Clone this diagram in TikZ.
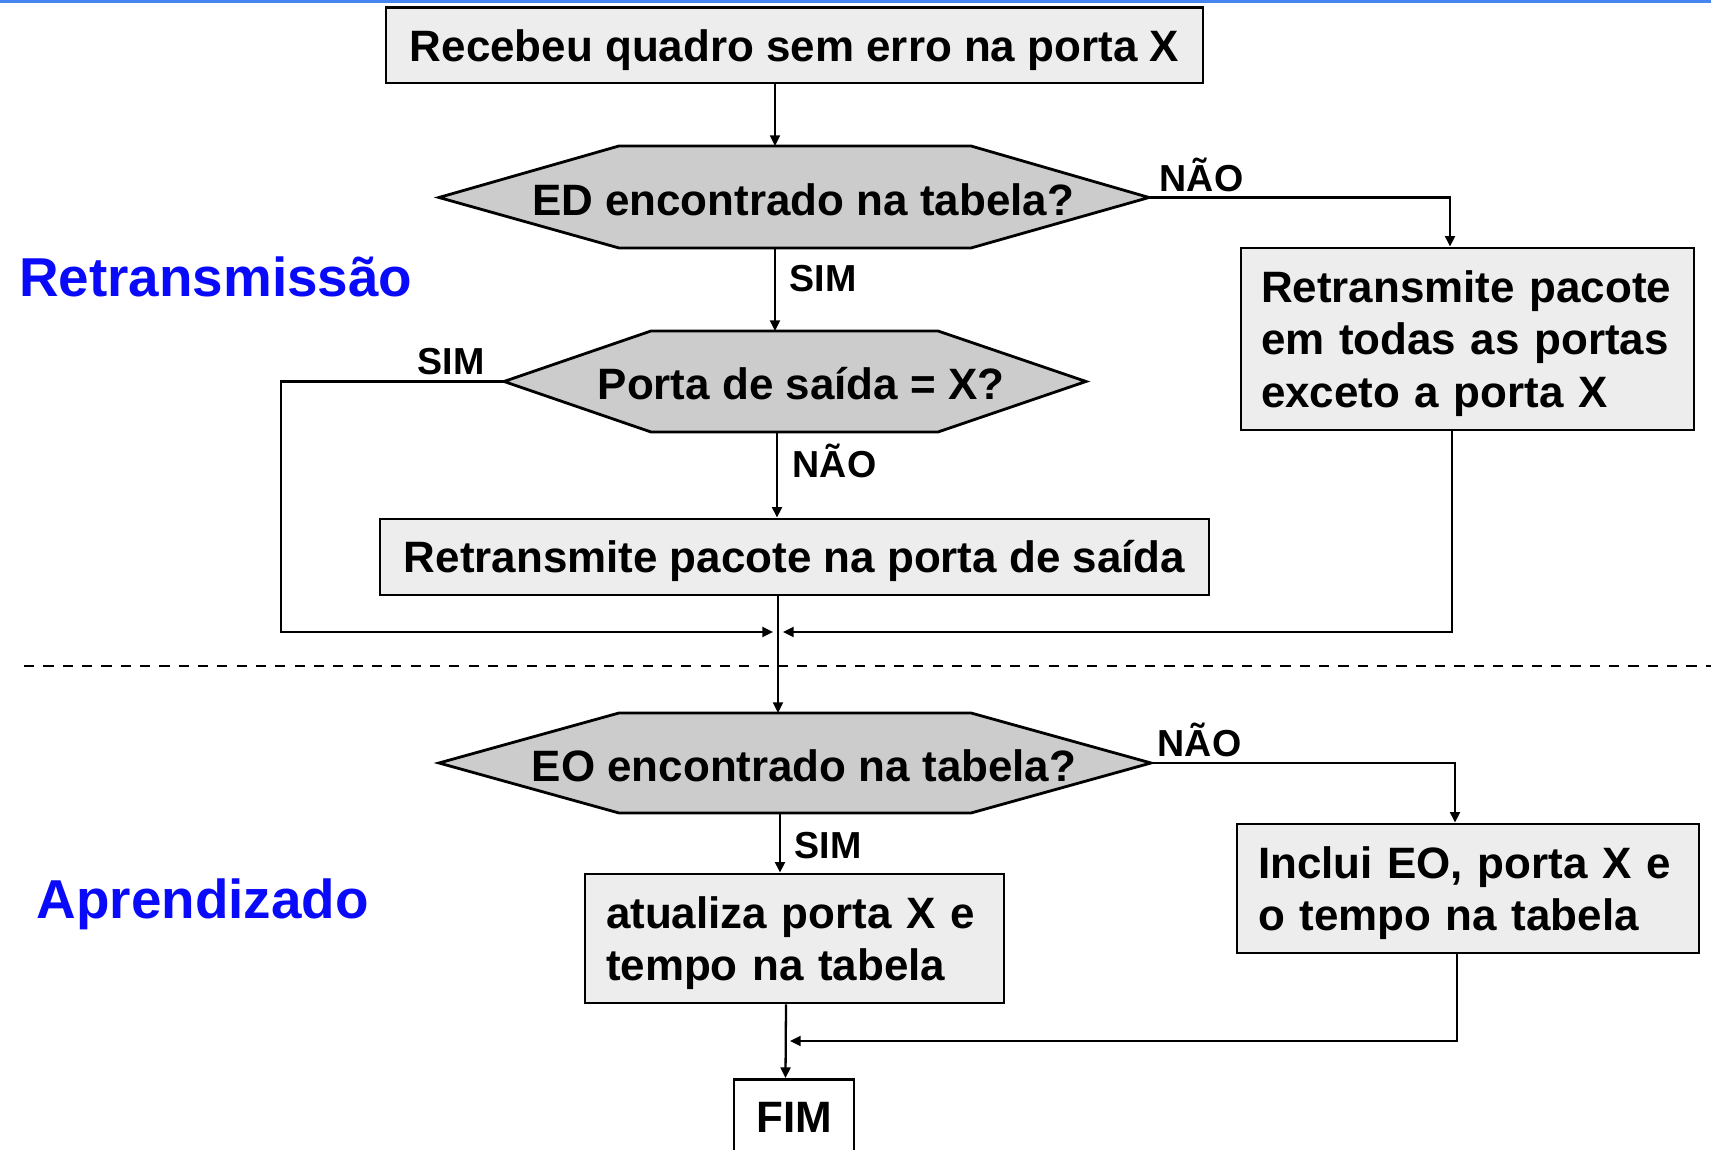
\documentclass[tikz,border=0pt]{standalone}
\usepackage{fontspec}
\setmainfont{Liberation Sans}
\usepackage{tikz}
\usetikzlibrary{positioning}
\usetikzlibrary{calc}
\usetikzlibrary{arrows.meta}
\definecolor{azultopo}{RGB}{70,132,240}
\definecolor{azulsecao}{RGB}{10,10,250}

\tikzset{
  caixa/.style={draw, fill=black!7, line width=0.8pt, inner sep=0pt, font=\fontsize{12.5}{14.8}\selectfont\bfseries,
    execute at begin node=\rule{0pt}{11.7pt}},
  fimbox/.style={draw, fill=white, line width=0.8pt, inner sep=0pt, font=\fontsize{12.5}{14.8}\selectfont\bfseries},
  decisao/.style={draw, fill=black!20, line width=0.8pt},
  texto/.style={inner sep=0pt, font=\fontsize{12.5}{14.8}\selectfont\bfseries},
  rotulo/.style={inner sep=0pt, anchor=base west, font=\fontsize{10.7}{12}\selectfont\bfseries},
  secao/.style={inner sep=0pt, anchor=base west, text=azulsecao, font=\fontsize{15.6}{18}\selectfont\bfseries},
  seta/.style={line width=0.65pt, -{Triangle[length=3pt,width=2.8pt]}},
  divisa/.style={line width=0.75pt, dash pattern=on 2.9pt off 2.6pt},
}

\begin{document}
\begin{tikzpicture}
        \useasboundingbox (0,0) rectangle (17.11,-11.5);
        \fill[azultopo] (0,0) rectangle (17.11,-0.035);

        % retransmissao
        \node[caixa, minimum width=8.17cm, minimum height=0.754cm] (recebe) at (7.945,-0.453) {Recebeu quadro sem erro na porta X};

        \draw[decisao] (4.39,-1.975) coordinate (ed-w) -- (6.19,-1.46) -- (9.71,-1.46) -- (11.49,-1.975) coordinate (ed-e) -- (9.71,-2.48) -- (6.19,-2.48) -- cycle;
        \coordinate (ed-n) at (7.75,-1.46);
        \coordinate (ed-s) at (7.75,-2.48);
        \node[texto] (ed) at (8.03,-2.00) {ED encontrado na tabela?};

        \node[caixa, align=left, text width=4.13cm, inner xsep=0.2cm, minimum height=1.82cm] (todas) at (14.675,-3.39) {Retransmite pacote\\em todas as portas\\exceto a porta X};

        \draw[decisao] (5.04,-3.815) coordinate (porta-w) -- (6.51,-3.31) -- (9.38,-3.31) -- (10.86,-3.815) -- (9.38,-4.32) -- (6.51,-4.32) -- cycle;
        \coordinate (porta-n) at (7.75,-3.31);
        \coordinate (porta-s) at (7.77,-4.32);
        \node[texto] (porta) at (8.01,-3.84) {Porta de saída = X?};

        \node[caixa, minimum width=8.29cm, minimum height=0.76cm] (saida) at (7.945,-5.57) {Retransmite pacote na porta de saída};
        \coordinate (juncao) at (7.78,-6.32);

        \draw[divisa] (0.24,-6.66) -- (17.11,-6.66);

        % aprendizado
        \draw[decisao] (4.39,-7.63) coordinate (eo-w) -- (6.19,-7.13) -- (9.71,-7.13) -- (11.51,-7.63) coordinate (eo-e) -- (9.71,-8.13) -- (6.19,-8.13) -- cycle;
        \coordinate (eo-n) at (7.78,-7.13);
        \coordinate (eo-s) at (7.80,-8.13);
        \node[texto] (eo) at (8.04,-7.66) {EO encontrado na tabela?};

        \node[caixa, align=left, text width=4.20cm, inner xsep=0.21cm, minimum height=1.29cm] (inclui) at (14.68,-8.885) {Inclui EO, porta X e\\o tempo na tabela};
        \node[caixa, align=left, text width=3.77cm, inner xsep=0.21cm, minimum height=1.29cm] (atualiza) at (7.945,-9.385) {atualiza porta X e\\tempo na tabela};
        \node[fimbox, minimum width=1.2cm, minimum height=0.76cm, anchor=north] (fim) at (7.94,-10.78) {FIM};
        \coordinate (juncao2) at (7.86,-10.41);

        \draw[seta] (recebe.south -| ed-n) -- (ed-n);
        \draw[seta] (ed-e) -| ([xshift=-1.75mm]todas.north);
        \draw[seta] (ed-s) -- (porta-n);
        \draw[seta] (porta-w) -- ++(-2.23,0) |- ([xshift=-0.5mm]juncao);
        \draw[seta] (porta-s) -- (porta-s |- saida.north);
        \draw[seta] ([xshift=-1.55mm]todas.south) |- ([xshift=0.5mm]juncao);
        \draw[seta] (saida.south -| eo-n) -- (eo-n);
        \draw[seta] (eo-e) -| ([xshift=-1.3mm]inclui.north);
        \draw[seta] (eo-s) -- (eo-s |- atualiza.north);
        \draw[seta] ([xshift=-0.85mm]atualiza.south) -- ([xshift=-0.85mm]fim.north);
        \draw[seta] ([xshift=-1.1mm]inclui.south) |- ([xshift=0.4mm]juncao2);

        \node[rotulo] (nao1) at (11.59,-1.92) {NÃO};
        \node[rotulo] (sim1) at (7.89,-2.92) {SIM};
        \node[rotulo] (sim2) at (4.17,-3.75) {SIM};
        \node[rotulo] (nao2) at (7.92,-4.78) {NÃO};
        \node[rotulo] (nao3) at (11.57,-7.57) {NÃO};
        \node[rotulo] (sim3) at (7.94,-8.59) {SIM};

        \node[secao] (retrans) at (0.185,-2.97) {Retransmissão};
        \node[secao] (aprend) at (0.36,-9.19) {Aprendizado};
    \end{tikzpicture}
\end{document}
